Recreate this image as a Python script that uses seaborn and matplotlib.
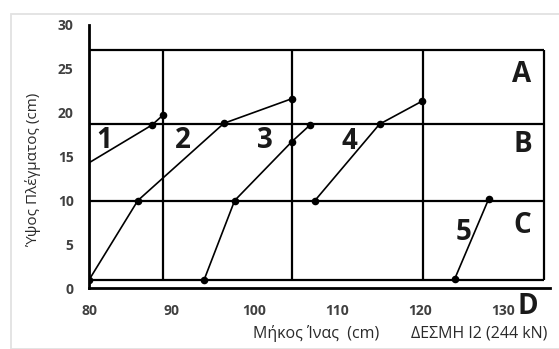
import matplotlib
matplotlib.use("Agg")
import matplotlib.pyplot as plt
import seaborn as sns
import pandas as pd
from matplotlib.patches import Rectangle

# Curves: fibre length (cm) vs mesh height (cm)
curve_ids = ["1", "2", "3", "4", "5"]
curve_x = [
    [80.0, 87.6, 88.9],
    [80.0, 85.9, 96.3, 104.5],
    [93.9, 97.6, 104.5, 106.7],
    [107.3, 115.1, 120.2],
    [124.2, 128.3],
]
curve_y = [
    [14.3, 18.6, 19.7],
    [0.95, 10.0, 18.8, 21.6],
    [0.95, 10.0, 16.7, 18.6],
    [10.0, 18.7, 21.3],
    [1.1, 10.2],
]
curve_marked = [
    [False, True, True],
    [True, True, True, True],
    [True, True, True, True],
    [True, True, True],
    [True, True],
]
curve_label_pos = [(81.8, 16.8), (91.3, 16.8), (101.2, 16.8), (111.4, 16.7), (125.2, 6.4)]

# Zone boundaries
zone_y = [27.2, 18.7, 10.0, 0.95]
zone_x = [89.0, 104.5, 120.3, 135.0]
zone_names = ["A", "B", "C", "D"]
zone_label_pos = [(132.3, 24.4), (132.4, 16.4), (132.3, 7.1), (133.0, -2.1)]

x_ticks = [80, 90, 100, 110, 120, 130]
y_ticks = [0, 5, 10, 15, 20, 25, 30]

rows = []
for cid, xs, ys, ms in zip(curve_ids, curve_x, curve_y, curve_marked):
    for xv, yv, mv in zip(xs, ys, ms):
        rows.append({"curve": cid, "x": xv, "y": yv, "marked": mv})
df = pd.DataFrame(rows)

sns.set_theme(style="white")
plt.rcParams["font.family"] = ["Open Sans", "DejaVu Sans"]

W, H = 559, 349
fig = plt.figure(figsize=(W / 100, H / 100), dpi=100)
fig.patch.set_facecolor("white")

# light frame around the figure
fig.patches.append(Rectangle((11 / W, 0), 1.2, 1 - 14 / H, transform=fig.transFigure,
                             fill=False, edgecolor="#e2e2e2", linewidth=1.3))

ax = fig.add_axes([89 / W, (H - 288.3) / H, (550 - 89) / W, (288.3 - 25) / H])
ax.set_facecolor("none")

# zone grid
ax.hlines(zone_y, zone_x[0] - 9.0, zone_x[-1], colors="black", linewidth=1.6, zorder=2)
ax.vlines(zone_x, zone_y[-1], zone_y[0], colors="black", linewidth=1.6, zorder=2)

sns.lineplot(data=df, x="x", y="y", units="curve", estimator=None, sort=False,
             color="black", linewidth=1.2, ax=ax, zorder=3, legend=False)
sns.scatterplot(data=df[df["marked"]], x="x", y="y", color="black", s=30,
                edgecolor="black", linewidth=0, ax=ax, zorder=4, legend=False)

big = dict(fontsize=20, fontweight="bold", color="#1a1a1a", ha="center", va="center",
           family=["Open Sans", "DejaVu Sans"])
for cid, (lx, ly) in zip(curve_ids, curve_label_pos):
    ax.text(lx, ly, cid, **big)
for zn, (lx, ly) in zip(zone_names, zone_label_pos):
    ax.text(lx, ly, zn, clip_on=False, **big)

ax.set_xlim(80, 135.7)
ax.set_ylim(0, 30)
ax.set_xticks(x_ticks)
ax.set_yticks(y_ticks)
ax.set_xticklabels([str(t) for t in x_ticks])
ax.set_yticklabels([str(t) for t in y_ticks])
for lab in ax.get_xticklabels() + ax.get_yticklabels():
    lab.set_fontweight("bold")
    lab.set_fontsize(10)
    lab.set_color("#404040")
ax.tick_params(axis="x", direction="in", length=4, width=1.2, color="black", pad=11)
ax.tick_params(axis="y", length=0, pad=11)

for side in ["top", "right"]:
    ax.spines[side].set_visible(False)
for side in ["left", "bottom"]:
    ax.spines[side].set_color("black")
    ax.spines[side].set_linewidth(2.0)

ax.set_xlabel("")
ax.set_ylabel("")
fig.text(316 / W, 1 - 333 / H, "Μήκος Ίνας  (cm)", ha="center", va="center",
         fontsize=11.5, color="#2a2a2a")
fig.text(479 / W, 1 - 333 / H, "ΔΕΣΜΗ Ι2 (244 kN)", ha="center", va="center",
         fontsize=11.5, color="#2a2a2a")
fig.text(33 / W, 1 - 170 / H, "Ύψος Πλέγματος (cm)", ha="center", va="center",
         rotation=90, fontsize=11, color="#2a2a2a")

fig.savefig("out.png", dpi=100)
